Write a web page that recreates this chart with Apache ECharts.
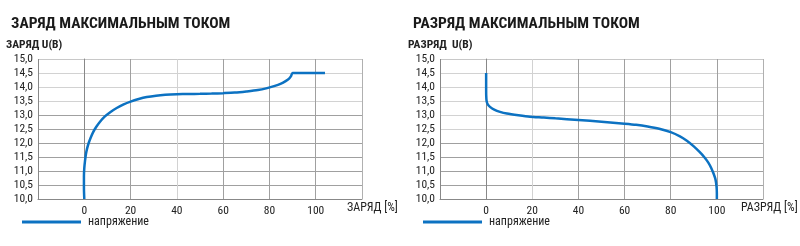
<!DOCTYPE html>
<html><head><meta charset="utf-8">
<script src="https://cdn.jsdelivr.net/npm/echarts@6/dist/echarts.min.js"></script>
<style>html,body{margin:0;padding:0;background:#fff}#c{width:800px;height:246px}</style>
</head><body><div id="c"></div>
<script>
const FONT = '"Liberation Sans Narrow","Roboto Condensed","DejaVu Sans Condensed","Roboto",sans-serif';
const titles = ['ЗАРЯД МАКСИМАЛЬНЫМ ТОКОМ', 'РАЗРЯД МАКСИМАЛЬНЫМ ТОКОМ'];
const yNames = ['ЗАРЯД U(B)', 'РАЗРЯД  U(B)'];
const xNames = ['ЗАРЯД [%]', 'РАЗРЯД [%]'];
const seriesName = 'напряжение';
const xTicks = [0, 20, 40, 60, 80, 100];
const yTicks = [10, 10.5, 11, 11.5, 12, 12.5, 13, 13.5, 14, 14.5, 15];
// charge curve: [percent, volts]
const chargeX = [0, -0.15, -0.15, 0, 0.3, 0.7, 1.2, 1.9, 2.8, 3.9, 5.2, 6.8, 8.8, 11.2, 14, 17, 20, 23.5, 27, 31, 35, 40, 45, 50, 55, 60, 65, 70, 75, 79, 82, 85, 87, 88.5, 89.4, 90, 104];
const chargeV = [10.0, 10.4, 10.8, 11.1, 11.35, 11.6, 11.8, 12.0, 12.2, 12.4, 12.58, 12.76, 12.94, 13.1, 13.25, 13.38, 13.48, 13.57, 13.64, 13.69, 13.72, 13.74, 13.75, 13.755, 13.765, 13.78, 13.8, 13.84, 13.89, 13.96, 14.03, 14.12, 14.21, 14.3, 14.4, 14.5, 14.5];
// discharge curve
const dischX = [0, 0, 0.03, 0.2, 0.7, 1.8, 3.5, 6, 9, 14, 19, 25, 30, 40, 50, 60, 65, 70, 75, 80, 84, 87, 90, 92.5, 94.5, 96.3, 97.6, 98.6, 99.4, 99.85, 100, 100];
const dischV = [14.5, 14.0, 13.7, 13.5, 13.38, 13.28, 13.19, 13.11, 13.05, 12.99, 12.94, 12.91, 12.88, 12.82, 12.76, 12.69, 12.65, 12.59, 12.51, 12.39, 12.24, 12.08, 11.88, 11.68, 11.5, 11.3, 11.1, 10.9, 10.7, 10.45, 10.2, 10.0];

const zip = (a, b) => a.map((v, i) => [v, b[i]]);
const DARK = '#a0a0a0', LIGHT = '#d2d2d2';
const xColors = [
  ['#888', DARK, DARK, LIGHT, DARK, DARK, DARK, '#b0b0b0'],
  ['#888', DARK, LIGHT, DARK, DARK, DARK, DARK, '#b0b0b0']
];
const yColors = [
  ['#888', DARK, DARK, DARK, DARK, DARK, DARK, LIGHT, LIGHT, LIGHT, '#c8c8c8'],
  ['#888', DARK, DARK, DARK, DARK, LIGHT, LIGHT, LIGHT, LIGHT, LIGHT, '#c8c8c8']
];
const grids = [{left: 38, top: 59, width: 324, height: 140}, {left: 440, top: 59, width: 323, height: 140}];
const offs = [0, 402];
const xNamePos = [347, 741];
const legendLeft = [17, 418];

const chart = echarts.init(document.getElementById('c'), null, {renderer: 'canvas'});
const option = {
  animation: false,
  textStyle: {fontFamily: FONT},
  title: titles.map((t, i) => ({text: t, left: 6 + offs[i], top: 11,
    textStyle: {fontFamily: FONT, fontSize: 15.5, fontWeight: 'bold', color: '#1a1a1a'}})),
  grid: grids,
  xAxis: grids.map((g, i) => ({
    type: 'value', gridIndex: i, min: -20, max: 120, interval: 20,
    axisLine: {show: true, onZero: false, lineStyle: {color: '#888', width: 1}},
    axisTick: {show: false},
    axisLabel: {fontFamily: FONT, fontSize: 11.5, color: '#222', margin: 6,
      formatter: v => xTicks.includes(v) ? String(v) : ''},
    splitLine: {show: true, lineStyle: {color: xColors[i], width: 1}}
  })),
  yAxis: grids.map((g, i) => ({
    type: 'value', gridIndex: i, min: yTicks[0], max: yTicks[yTicks.length - 1], interval: 0.5,
    axisLine: {show: true, lineStyle: {color: '#888', width: 1}},
    axisTick: {show: false},
    axisLabel: {fontFamily: FONT, fontSize: 11.5, color: '#222', margin: 5,
      formatter: v => v.toFixed(1).replace('.', ',')},
    splitLine: {show: true, lineStyle: {color: yColors[i], width: 1}}
  })),
  legend: legendLeft.map((l, i) => ({
    left: l, top: 211, data: [seriesName], itemWidth: 59, itemHeight: 3, icon: 'rect',
    itemGap: 5, textStyle: {fontFamily: FONT, fontSize: 12, color: '#222', padding: [0, 0, 0, 2]}
  })),
  graphic: [0, 1].flatMap(i => [
    {type: 'text', left: 6 + offs[i], top: 39, style: {text: yNames[i], font: 'bold 11.5px ' + FONT, fill: '#222'}},
    {type: 'text', left: xNamePos[i], top: 202, style: {text: xNames[i], font: '12px ' + FONT, fill: '#222'}}
  ]),
  series: [
    {name: seriesName, type: 'line', xAxisIndex: 0, yAxisIndex: 0, data: zip(chargeX, chargeV),
      smooth: 0.25, showSymbol: false, lineStyle: {color: '#0c72c2', width: 2.5}, itemStyle: {color: '#0c72c2'}},
    {name: seriesName, type: 'line', xAxisIndex: 1, yAxisIndex: 1, data: zip(dischX, dischV),
      smooth: 0.25, showSymbol: false, lineStyle: {color: '#0c72c2', width: 2.5}, itemStyle: {color: '#0c72c2'}}
  ]
};
chart.setOption(option);
</script></body></html>
